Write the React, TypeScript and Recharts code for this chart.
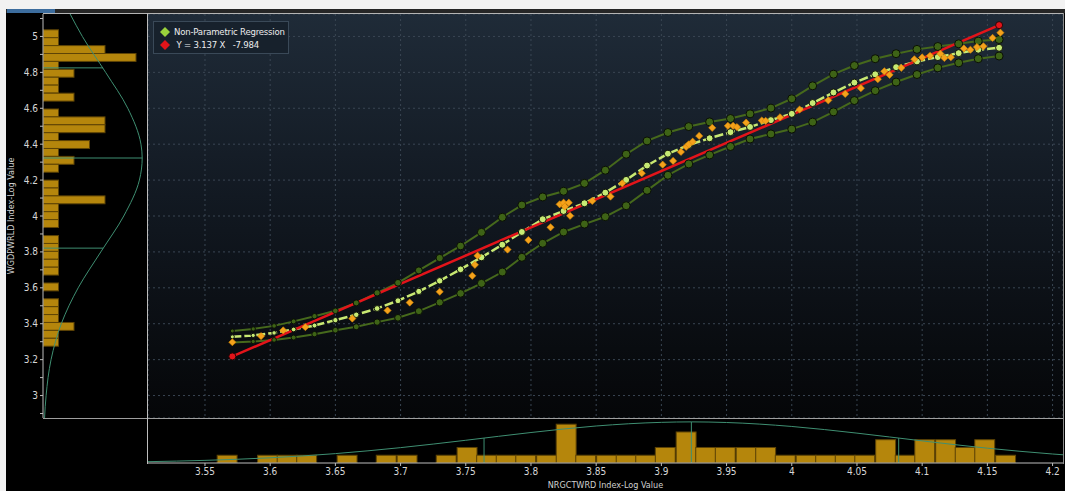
import React from 'react';
import {
  ComposedChart,
  Line,
  Bar,
  Scatter,
  XAxis,
  YAxis,
  CartesianGrid,
  ReferenceLine,
} from 'recharts';

// axis ticks
const xTicks = [3.55, 3.6, 3.65, 3.7, 3.75, 3.8, 3.85, 3.9, 3.95, 4, 4.05, 4.1, 4.15, 4.2];
const yTicks = [3, 3.2, 3.4, 3.6, 3.8, 4, 4.2, 4.4, 4.6, 4.8, 5];
const yAxisTicks = [2.9, 3, 3.1, 3.2, 3.3, 3.4, 3.5, 3.6, 3.7, 3.8, 3.9, 4, 4.1, 4.2, 4.3, 4.4, 4.5, 4.6, 4.7, 4.8, 4.9, 5, 5.1];

// non-parametric regression fit and its band
const fitX = [3.571, 3.587, 3.603, 3.618, 3.634, 3.65, 3.666, 3.682, 3.698, 3.714, 3.73, 3.746, 3.762, 3.778, 3.793, 3.809, 3.825, 3.841, 3.857, 3.873, 3.889, 3.905, 3.921, 3.937, 3.953, 3.968, 3.984, 4.0, 4.016, 4.032, 4.048, 4.064, 4.08, 4.096, 4.112, 4.128, 4.143, 4.159];
const fitMid = [3.327, 3.335, 3.349, 3.368, 3.39, 3.42, 3.45, 3.485, 3.528, 3.58, 3.639, 3.703, 3.77, 3.84, 3.911, 3.982, 4.028, 4.071, 4.13, 4.201, 4.281, 4.347, 4.396, 4.433, 4.467, 4.496, 4.534, 4.569, 4.629, 4.688, 4.743, 4.789, 4.829, 4.861, 4.885, 4.907, 4.926, 4.937];
const fitUpper = [3.36, 3.371, 3.388, 3.413, 3.442, 3.472, 3.516, 3.572, 3.628, 3.697, 3.766, 3.833, 3.909, 3.993, 4.061, 4.106, 4.138, 4.182, 4.255, 4.344, 4.418, 4.465, 4.498, 4.524, 4.543, 4.569, 4.601, 4.653, 4.725, 4.79, 4.838, 4.876, 4.904, 4.928, 4.944, 4.959, 4.974, 4.983];
const fitLower = [3.296, 3.301, 3.31, 3.323, 3.342, 3.364, 3.383, 3.409, 3.433, 3.47, 3.519, 3.569, 3.625, 3.688, 3.77, 3.848, 3.911, 3.955, 3.996, 4.057, 4.143, 4.227, 4.29, 4.34, 4.387, 4.429, 4.457, 4.484, 4.523, 4.58, 4.643, 4.698, 4.746, 4.788, 4.825, 4.853, 4.876, 4.891];

// linear regression Y = 3.137 X - 7.984 (end points)
const regX = [3.571, 4.159];
const regY = [3.218, 5.063];

// observations
const actualX = [3.571, 3.593, 3.61, 3.627, 3.663, 3.69, 3.707, 3.73, 3.755, 3.757, 3.759, 3.782, 3.798, 3.815, 3.822, 3.825, 3.829, 3.826, 3.83, 3.847, 3.861, 3.87, 3.885, 3.901, 3.909, 3.915, 3.919, 3.921, 3.924, 3.929, 3.939, 3.951, 3.955, 3.958, 3.965, 3.977, 3.98, 3.991, 4.006, 4.028, 4.041, 4.053, 4.066, 4.071, 4.075, 4.084, 4.094, 4.1, 4.106, 4.114, 4.117, 4.122, 4.132, 4.137, 4.142, 4.147, 4.154, 4.16];
const actualY = [3.297, 3.331, 3.363, 3.381, 3.429, 3.474, 3.518, 3.578, 3.667, 3.728, 3.779, 3.813, 3.866, 3.937, 4.065, 4.074, 4.074, 4.052, 4.001, 4.084, 4.108, 4.182, 4.238, 4.286, 4.307, 4.357, 4.385, 4.399, 4.414, 4.446, 4.491, 4.502, 4.502, 4.495, 4.52, 4.532, 4.53, 4.55, 4.593, 4.644, 4.68, 4.712, 4.762, 4.806, 4.786, 4.825, 4.873, 4.883, 4.892, 4.904, 4.88, 4.884, 4.933, 4.926, 4.941, 4.945, 4.992, 5.021];

// histogram of X (bottom)
const xBins = [3.567, 3.582, 3.598, 3.613, 3.628, 3.643, 3.659, 3.674, 3.689, 3.705, 3.72, 3.735, 3.751, 3.766, 3.781, 3.796, 3.812, 3.827, 3.842, 3.858, 3.873, 3.888, 3.903, 3.919, 3.934, 3.949, 3.965, 3.98, 3.995, 4.011, 4.026, 4.041, 4.056, 4.072, 4.087, 4.102, 4.118, 4.133, 4.148, 4.164];
const xCounts = [1, 0, 1, 1, 1, 0, 1, 0, 1, 1, 0, 1, 2, 1, 1, 1, 1, 5, 1, 1, 1, 1, 2, 4, 2, 2, 2, 2, 1, 1, 1, 1, 1, 3, 1, 3, 3, 2, 3, 1];
const xCurveX = [3.506, 3.55, 3.6, 3.65, 3.7, 3.75, 3.8, 3.85, 3.9, 3.923, 3.95, 4.0, 4.05, 4.1, 4.15, 4.2, 4.208];
const xCurveD = [0.17, 0.34, 0.67, 1.21, 1.98, 2.93, 3.93, 4.77, 5.24, 5.3, 5.22, 4.71, 3.85, 2.85, 1.91, 1.16, 1.06];
const xMean = 3.923;
const xSd = [3.764, 4.082];
const xPeak = 5.3;
const xAtSd = 3.21;

// histogram of Y (left)
const yBins = [5.015, 4.971, 4.927, 4.883, 4.839, 4.795, 4.751, 4.707, 4.662, 4.618, 4.574, 4.53, 4.486, 4.442, 4.398, 4.354, 4.31, 4.266, 4.222, 4.178, 4.134, 4.09, 4.046, 4.002, 3.958, 3.913, 3.869, 3.825, 3.781, 3.737, 3.693, 3.649, 3.605, 3.561, 3.517, 3.473, 3.429, 3.385, 3.341, 3.297];
const yCounts = [1, 1, 4, 6, 1, 2, 1, 1, 2, 0, 1, 4, 4, 1, 3, 1, 2, 1, 0, 1, 1, 4, 1, 1, 1, 0, 1, 1, 1, 1, 1, 0, 1, 0, 1, 1, 1, 2, 1, 1];
const yCurveY = [2.875, 3.0, 3.2, 3.4, 3.6, 3.8, 4.0, 4.2, 4.323, 4.4, 4.6, 4.8, 5.0, 5.125];
const yCurveD = [0.1, 0.2, 0.52, 1.18, 2.27, 3.73, 5.21, 6.22, 6.4, 6.32, 5.47, 4.04, 2.54, 1.75];
const yMean = 4.323;
const ySd = [3.821, 4.825];
const yPeak = 6.4;
const yAtSd = 3.88;

const X_DOMAIN: [number, number] = [3.5063, 4.208];
const Y_DOMAIN: [number, number] = [2.875, 5.125];

const FONT = "'Liberation Sans Narrow', 'DejaVu Sans Condensed', 'Liberation Sans', sans-serif";
const BAR_FILL = '#b5860c';
const BAR_EDGE = '#5e4406';
const CURVE = '#3f8f72';
const X_BIN_PX = 19.9;
const Y_BIN_PX = 7.9;

const upperData = fitX.map((x, i) => ({ x, y: fitUpper[i] }));
const lowerData = fitX.map((x, i) => ({ x, y: fitLower[i] }));
const midData = fitX.map((x, i) => ({ x, y: fitMid[i] }));
const regData = regX.map((x, i) => ({ x, y: regY[i] }));
const actualData = actualX.map((x, i) => ({ x, y: actualY[i] }));
const xHist = xBins.map((x, i) => ({ x, count: xCounts[i] }));
const xCurve = xCurveX.map((x, i) => ({ x, d: xCurveD[i] }));
const yHist = yBins.map((y, i) => ({ y, count: yCounts[i] }));
const yCurve = yCurveY.map((y, i) => ({ y, d: yCurveD[i] }));

// bars drawn one bin wide, centred on the place the library puts them
const xBarShape = (p: any) => {
  if (!p.height || p.height <= 0) return <g />;
  const cx = p.x + p.width / 2;
  return <rect x={cx - X_BIN_PX / 2} y={p.y} width={X_BIN_PX} height={p.height} fill={BAR_FILL} stroke={BAR_EDGE} strokeWidth={1} />;
};

const yBarShape = (p: any) => {
  if (!p.width || p.width <= 0) return <g />;
  const cy = p.y + p.height / 2;
  return <rect x={p.x} y={cy - Y_BIN_PX / 2} width={p.width} height={Y_BIN_PX} fill={BAR_FILL} stroke={BAR_EDGE} strokeWidth={1} />;
};

const bandDot = (p: any) => {
  const r = 2 + Math.min(p.index, 12) / 6;
  return <circle key={`bd-${p.index}`} cx={p.cx} cy={p.cy} r={r} fill="#3e6316" stroke="#0a0f05" strokeWidth={1} />;
};

const fitDot = (p: any) => {
  const r = 2 + Math.min(p.index, 12) / 8;
  return <circle key={`fd-${p.index}`} cx={p.cx} cy={p.cy} r={r} fill="#c6ea74" stroke="#10140a" strokeWidth={1} />;
};

const diamond = (p: any) => {
  const s = 3.6;
  const { cx, cy } = p;
  return (
    <path
      d={`M${cx},${cy - s}L${cx + s},${cy}L${cx},${cy + s}L${cx - s},${cy}Z`}
      fill="#f4a21c"
      stroke="#d98800"
      strokeWidth={0.6}
    />
  );
};

const yTickLabel = (v: number) => {
  const t = Math.round(v * 10);
  return t % 2 === 0 ? String(t / 10) : '';
};

const line = (style: React.CSSProperties) => <div style={{ position: 'absolute', ...style }} />;

export default function App() {
  return (
    <div
      style={{
        position: 'absolute',
        left: 0,
        top: 0,
        width: 1065,
        height: 491,
        background: '#000',
        overflow: 'hidden',
        fontFamily: FONT,
      }}
    >
      {/* toolbar remains at the top */}
      {line({ left: 0, top: 0, width: 1065, height: 9, background: '#f2f2f2' })}
      {line({ left: 0, top: 9, width: 1065, height: 4, background: '#262626' })}
      {line({ left: 7, top: 9, width: 48, height: 4, background: '#3d6d9e' })}
      {line({ left: 0, top: 0, width: 6, height: 491, background: '#f2f2f2' })}

      {/* plot background */}
      <div
        style={{
          position: 'absolute',
          left: 148,
          top: 14,
          width: 915,
          height: 404,
          background: 'linear-gradient(to bottom, #1f2b38 0%, #121922 45%, #050608 100%)',
        }}
      />

      {/* left histogram of Y */}
      <div style={{ position: 'absolute', left: 0, top: 0 }}>
        <ComposedChart
          layout="vertical"
          width={148}
          height={418}
          data={yHist}
          margin={{ top: 14, right: 1, bottom: 0, left: 0 }}
        >
          <XAxis type="number" domain={[0, 6.71]} hide allowDataOverflow />
          <YAxis
            type="number"
            dataKey="y"
            domain={Y_DOMAIN}
            reversed
            ticks={yAxisTicks}
            interval={0}
            allowDataOverflow
            width={43}
            tickSize={3}
            tickMargin={2}
            tickFormatter={yTickLabel}
            axisLine={{ stroke: '#bdbdbd' }}
            tickLine={{ stroke: '#bdbdbd' }}
            tick={{ fill: '#d6d6d6', fontSize: 10, fontFamily: FONT }}
            label={{
              value: 'WGDPWRLD Index-Log Value',
              angle: -90,
              position: 'insideLeft',
              offset: 11,
              style: { textAnchor: 'middle', fill: '#d0d0d0', fontSize: 9, fontFamily: FONT },
            }}
          />
          <Bar dataKey="count" shape={yBarShape} isAnimationActive={false} />
          <Line
            data={yCurve}
            dataKey="d"
            type="monotone"
            stroke={CURVE}
            strokeWidth={1}
            dot={false}
            isAnimationActive={false}
          />
          <ReferenceLine segment={[{ x: 0, y: yMean }, { x: yPeak, y: yMean }]} stroke={CURVE} strokeWidth={1} />
          {ySd.map((v) => (
            <ReferenceLine key={v} segment={[{ x: 0, y: v }, { x: yAtSd, y: v }]} stroke={CURVE} strokeWidth={1} />
          ))}
        </ComposedChart>
      </div>

      {/* bottom histogram of X */}
      <div style={{ position: 'absolute', left: 0, top: 418 }}>
        <ComposedChart width={1065} height={73} data={xHist} margin={{ top: 0, right: 2, bottom: 0, left: 148 }}>
          <XAxis
            type="number"
            dataKey="x"
            domain={X_DOMAIN}
            ticks={xTicks}
            interval={0}
            allowDataOverflow
            height={28}
            tickSize={3}
            tickMargin={2}
            axisLine={{ stroke: '#bdbdbd' }}
            tickLine={{ stroke: '#bdbdbd' }}
            tick={{ fill: '#d6d6d6', fontSize: 10, fontFamily: FONT }}
            label={{
              value: 'NRGCTWRD Index-Log Value',
              position: 'bottom',
              offset: -9,
              style: { fill: '#d0d0d0', fontSize: 9, fontFamily: FONT },
            }}
          />
          <YAxis type="number" domain={[0, 5.8]} hide allowDataOverflow />
          <Bar dataKey="count" shape={xBarShape} isAnimationActive={false} />
          <Line
            data={xCurve}
            dataKey="d"
            type="monotone"
            stroke={CURVE}
            strokeWidth={1}
            dot={false}
            isAnimationActive={false}
          />
          <ReferenceLine segment={[{ x: xMean, y: 0 }, { x: xMean, y: xPeak }]} stroke={CURVE} strokeWidth={1} />
          {xSd.map((v) => (
            <ReferenceLine key={v} segment={[{ x: v, y: 0 }, { x: v, y: xAtSd }]} stroke={CURVE} strokeWidth={1} />
          ))}
        </ComposedChart>
      </div>

      {/* main scatter plot */}
      <div style={{ position: 'absolute', left: 0, top: 0 }}>
        <ComposedChart width={1065} height={491} margin={{ top: 14, right: 2, bottom: 73, left: 148 }}>
          <XAxis type="number" dataKey="x" domain={X_DOMAIN} ticks={xTicks} allowDataOverflow hide />
          <YAxis type="number" dataKey="y" domain={Y_DOMAIN} ticks={yTicks} allowDataOverflow hide />
          <CartesianGrid stroke="#3a4653" strokeDasharray="2 3" />
          <Line data={upperData} dataKey="y" stroke="#46691c" strokeWidth={2} dot={bandDot} isAnimationActive={false} />
          <Line data={lowerData} dataKey="y" stroke="#46691c" strokeWidth={2} dot={bandDot} isAnimationActive={false} />
          <Line
            data={midData}
            dataKey="y"
            stroke="#c8e872"
            strokeWidth={2.5}
            strokeDasharray="9 3"
            dot={fitDot}
            isAnimationActive={false}
          />
          <Scatter data={actualData} shape={diamond} isAnimationActive={false} />
          <Line
            data={regData}
            dataKey="y"
            stroke="#e3141a"
            strokeWidth={2.5}
            dot={{ r: 3.5, fill: '#e3141a', stroke: '#2a0606', strokeWidth: 1 }}
            isAnimationActive={false}
          />
        </ComposedChart>
      </div>

      {/* frame */}
      {line({ left: 43, top: 13, width: 1021, height: 1, background: '#b4b4b4' })}
      {line({ left: 43, top: 418, width: 1021, height: 1, background: '#9e9e9e' })}
      {line({ left: 147, top: 13, width: 1, height: 451, background: '#bdbdbd' })}
      {line({ left: 1063, top: 13, width: 1, height: 451, background: '#8c8c8c' })}

      {/* legend */}
      <div
        style={{
          position: 'absolute',
          left: 153,
          top: 21,
          width: 136,
          height: 33,
          background: '#17212c',
          border: '1px solid #3a4958',
          color: '#ececec',
          fontSize: 9.5,
          lineHeight: '13px',
          whiteSpace: 'nowrap',
          letterSpacing: -0.2,
          boxSizing: 'border-box',
          padding: '3px 0 0 5px',
        }}
      >
        <div style={{ display: 'flex', alignItems: 'center' }}>
          <svg width={12} height={12} style={{ marginRight: 3, flexShrink: 0 }}>
            <path d="M6,1L11,6L6,11L1,6Z" fill="#9ad23c" />
          </svg>
          <span>Non-Parametric Regression</span>
        </div>
        <div style={{ display: 'flex', alignItems: 'center' }}>
          <svg width={12} height={12} style={{ marginRight: 3, flexShrink: 0 }}>
            <path d="M6,1L11,6L6,11L1,6Z" fill="#e3141a" />
          </svg>
          <span>&nbsp;Y = 3.137 X &nbsp;&nbsp;-7.984</span>
        </div>
      </div>
    </div>
  );
}
